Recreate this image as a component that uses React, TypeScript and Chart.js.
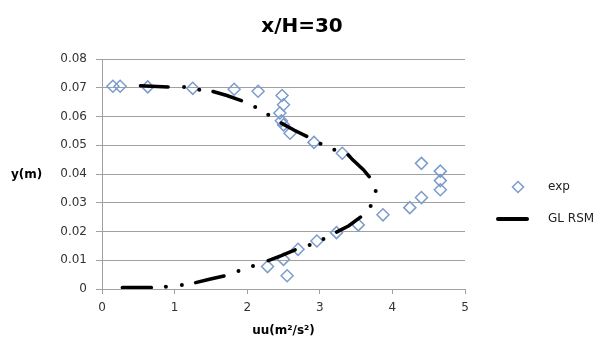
import React, { useEffect, useRef } from "react";
import { Chart, registerables } from "chart.js";
Chart.register(...registerables);

const TITLE = "x/H=30";
const X_TITLE = "uu(m²/s²)";
const Y_TITLE = "y(m)";
const SERIES_EXP = "exp";
const SERIES_GL = "GL RSM";

// experimental points
const expX = [0.15, 0.25, 0.63, 1.25, 1.82, 2.15, 2.48, 2.5, 2.45, 2.47, 2.5, 2.59, 2.92, 3.31, 4.4, 4.66, 4.66, 4.66, 4.4, 4.24, 3.87, 3.53, 3.23, 2.96, 2.7, 2.5, 2.28, 2.55];
const expY = [0.0705, 0.0705, 0.0703, 0.0698, 0.0695, 0.0688, 0.0673, 0.0641, 0.0612, 0.0585, 0.0571, 0.0542, 0.051, 0.0472, 0.0437, 0.041, 0.0377, 0.0345, 0.0318, 0.0283, 0.0258, 0.0223, 0.0196, 0.0167, 0.0138, 0.0103, 0.0078, 0.0046];

// GL RSM dense segments (null = break)
const glSegX = [0.28, 0.68, null, 1.29, 1.48, 1.68, null, 2.29, 2.47, 2.66, null, 3.23, 3.4, 3.56, null, 3.68, 3.6, 3.45, 3.39, null, 2.82, 2.65, 2.47, null, 1.92, 1.72, 1.53, null, 0.91, 0.53];
const glSegY = [0.0005, 0.0005, null, 0.0022, 0.0034, 0.0045, null, 0.0099, 0.0116, 0.0136, null, 0.0198, 0.022, 0.025, null, 0.0391, 0.0415, 0.045, 0.0467, null, 0.0531, 0.0552, 0.0577, null, 0.0655, 0.0673, 0.0687, null, 0.0703, 0.0707];
// GL RSM isolated points
const glDotX = [0.88, 1.1, 1.88, 2.08, 2.86, 3.05, 3.7, 3.77, 3.2, 3.01, 2.29, 2.11, 1.34, 1.13];
const glDotY = [0.0008, 0.0014, 0.0063, 0.008, 0.0153, 0.0174, 0.0289, 0.0341, 0.0484, 0.0505, 0.0606, 0.0633, 0.0693, 0.0703];

const xTicks = [0, 1, 2, 3, 4, 5];
const yTicks = [0, 0.01, 0.02, 0.03, 0.04, 0.05, 0.06, 0.07, 0.08];

const EXP_COLOR = "#7c9ccc";
const FONT = "'DejaVu Sans', sans-serif";

export default function App() {
  const ref = useRef<HTMLCanvasElement>(null);
  useEffect(() => {
    const canvas = ref.current!;
    const overlay = {
      id: "overlay",
      afterDraw(chart: any) {
        const ctx = chart.ctx;
        const area = chart.chartArea;
        ctx.save();
        ctx.fillStyle = "#000";
        ctx.textBaseline = "middle";
        ctx.textAlign = "center";
        ctx.font = `bold 20px ${FONT}`;
        ctx.fillText(TITLE, 302, 27);
        ctx.font = `bold 12px ${FONT}`;
        ctx.fillText(X_TITLE, (area.left + area.right) / 2, 331);
        ctx.textAlign = "left";
        ctx.fillText(Y_TITLE, 11, 175);
        // legend
        ctx.font = `12px ${FONT}`;
        ctx.fillStyle = "#222";
        ctx.fillText(SERIES_EXP, 548, 187);
        ctx.fillText(SERIES_GL, 548, 219);
        ctx.strokeStyle = EXP_COLOR;
        ctx.lineWidth = 1.5;
        ctx.beginPath();
        ctx.moveTo(518, 181.5);
        ctx.lineTo(523.5, 187);
        ctx.lineTo(518, 192.5);
        ctx.lineTo(512.5, 187);
        ctx.closePath();
        ctx.stroke();
        ctx.strokeStyle = "#000";
        ctx.lineWidth = 4;
        ctx.lineCap = "round";
        ctx.beginPath();
        ctx.moveTo(498, 219);
        ctx.lineTo(527, 219);
        ctx.stroke();
        ctx.restore();
      },
    };
    const chart = new Chart(canvas, {
      type: "scatter",
      data: {
        datasets: [
          {
            label: SERIES_GL + " seg",
            data: glSegX.map((x, i) => ({ x: x as any, y: glSegY[i] as any })),
            showLine: true,
            spanGaps: false,
            borderColor: "#000",
            backgroundColor: "#000",
            borderWidth: 3.5,
            borderCapStyle: "round",
            pointRadius: 0,
            pointHoverRadius: 0,
            order: 1,
          } as any,
          {
            label: SERIES_GL,
            data: glDotX.map((x, i) => ({ x, y: glDotY[i] })),
            showLine: false,
            pointStyle: "circle",
            pointRadius: 2,
            borderWidth: 0,
            backgroundColor: "#000",
            borderColor: "#000",
            order: 1,
          },
          {
            label: SERIES_EXP,
            data: expX.map((x, i) => ({ x, y: expY[i] })),
            showLine: false,
            pointStyle: "rectRot",
            pointRadius: 6,
            borderWidth: 1.5,
            borderColor: EXP_COLOR,
            backgroundColor: "rgba(255,255,255,0)",
            order: 2,
          },
        ],
      },
      options: {
        animation: false,
        responsive: false,
        layout: { padding: { left: 0, right: 137, top: 59, bottom: 30 } },
        plugins: { legend: { display: false }, title: { display: false }, tooltip: { enabled: false } },
        scales: {
          x: {
            type: "linear",
            min: 0,
            max: 5,
            afterBuildTicks: (s: any) => { s.ticks = xTicks.map((v) => ({ value: v })); },
            afterFit: (s: any) => { s.height = 29; },
            ticks: { font: { family: FONT, size: 12 }, color: "#333", padding: 7 },
            grid: { drawOnChartArea: false, tickLength: 5, color: "#a0a0a0" },
            border: { color: "#a0a0a0" },
          },
          y: {
            type: "linear",
            min: 0,
            max: 0.08,
            afterBuildTicks: (s: any) => { s.ticks = yTicks.map((v) => ({ value: v })); },
            afterFit: (s: any) => { s.width = 102; },
            ticks: {
              font: { family: FONT, size: 12 },
              color: "#333",
              padding: 9,
              callback: (v: any) => (v === 0 ? "0" : Number(v).toFixed(2)),
            },
            grid: { color: "#a0a0a0", tickLength: 6 },
            border: { color: "#a0a0a0" },
          },
        },
      },
      plugins: [overlay],
    } as any);
    return () => chart.destroy();
  }, []);
  return (
    <div style={{ position: "fixed", left: 0, top: 0, width: 602, height: 348, background: "#fff" }}>
      <canvas ref={ref} width={602} height={348} style={{ width: 602, height: 348 }} />
    </div>
  );
}
